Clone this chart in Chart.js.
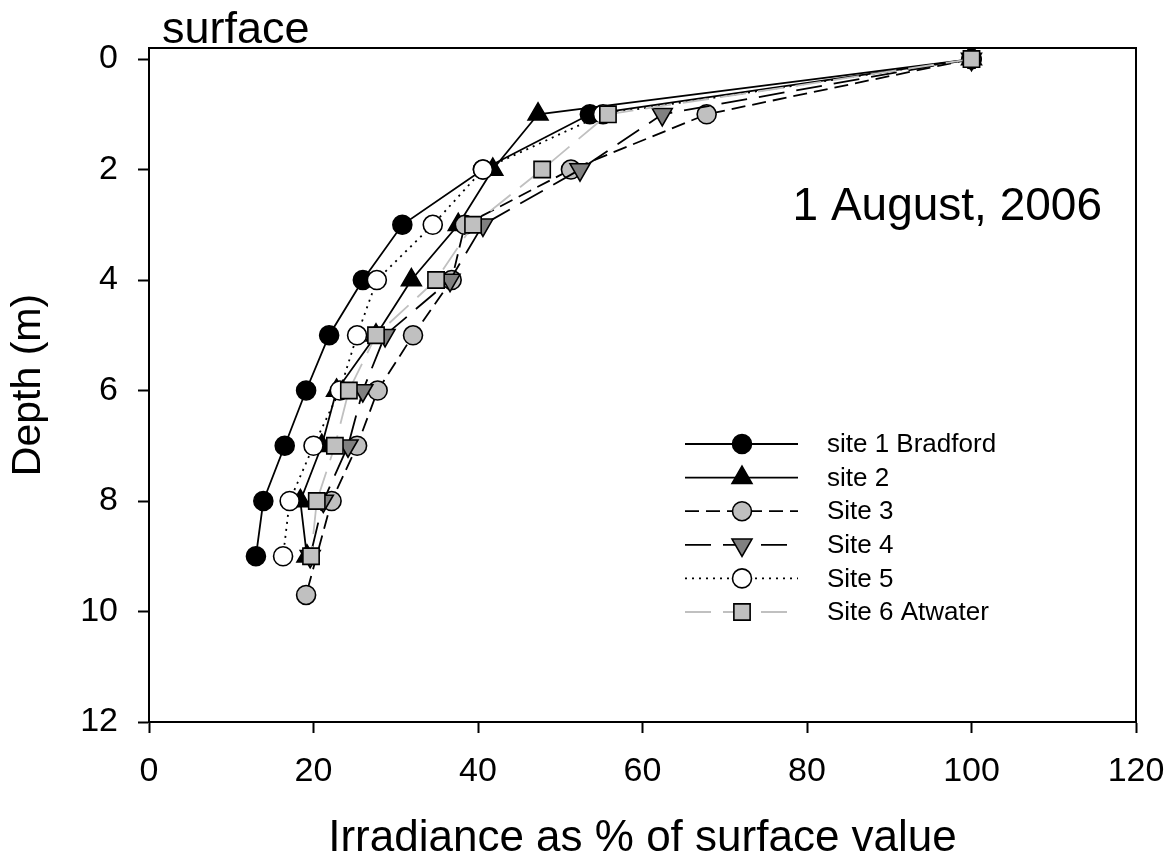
<!DOCTYPE html>
<html>
<head>
<meta charset="utf-8">
<script src="https://cdn.jsdelivr.net/npm/chart.js@4/dist/chart.umd.min.js"></script>
<style>
html,body{margin:0;padding:0;background:#fff;}
canvas{display:block;}
</style>
</head>
<body>
<canvas id="c" width="1175" height="859"></canvas>
<script>
// ---- data ----
const depths = [0, 1, 2, 3, 4, 5, 6, 7, 8, 9];
const site3Depths = [0, 1, 2, 3, 4, 5, 6, 7, 8, 9.7];
const site1 = [100, 53.6, 40.6, 30.8, 26.0, 21.9, 19.1, 16.5, 13.9, 13.0];
const site2 = [100, 47.3, 41.8, 37.6, 31.9, 27.6, 22.8, 21.0, 18.4, 19.2];
const site3 = [100, 67.8, 51.3, 38.4, 36.8, 32.1, 27.8, 25.3, 22.2, 19.1];
const site4 = [100, 62.4, 52.4, 40.6, 36.6, 28.7, 26.0, 24.2, 21.2, 19.6];
const site5 = [100, 55.2, 40.6, 34.5, 27.7, 25.3, 23.2, 20.0, 17.1, 16.3];
const site6 = [100, 55.8, 47.8, 39.4, 34.9, 27.6, 24.3, 22.6, 20.4, 19.7];
const seriesNames = ['site 1 Bradford', 'site 2', 'Site 3', 'Site 4', 'Site 5', 'Site 6 Atwater'];
const xTicks = [0, 20, 40, 60, 80, 100, 120];
const yTicks = [0, 2, 4, 6, 8, 10, 12];
const xTitle = 'Irradiance as % of surface value';
const yTitle = 'Depth (m)';
const dateLabel = '1 August, 2006';
const surfaceLabel = 'surface';

const FONT = "'Liberation Sans', Arial, Helvetica, sans-serif";

function pts(xs, ys) { return xs.map((v, i) => ({ x: v, y: ys[i] })); }

const styles = [
  { borderColor: '#000', borderDash: [], pointStyle: 'circle', pointRadius: 9.5, bg: '#000', rot: 0 },
  { borderColor: '#000', borderDash: [], pointStyle: 'triangle', pointRadius: 11.5, bg: '#000', rot: 0 },
  { borderColor: '#000', borderDash: [14, 7], pointStyle: 'circle', pointRadius: 9.5, bg: '#c0c0c0', rot: 0 },
  { borderColor: '#000', borderDash: [26, 12], pointStyle: 'triangle', pointRadius: 11.5, bg: '#808080', rot: 180 },
  { borderColor: '#000', borderDash: [2, 5], pointStyle: 'circle', pointRadius: 9.5, bg: '#fff', rot: 0 },
  { borderColor: '#c0c0c0', borderDash: [26, 12], pointStyle: 'rect', pointRadius: 11.5, bg: '#c0c0c0', rot: 0 }
];
const seriesData = [pts(site1, depths), pts(site2, depths), pts(site3, site3Depths), pts(site4, depths), pts(site5, depths), pts(site6, depths)];

const datasets = seriesData.map((d, i) => ({
  label: seriesNames[i],
  data: d,
  showLine: true,
  borderColor: styles[i].borderColor,
  borderWidth: 1.8,
  borderDash: styles[i].borderDash,
  pointStyle: styles[i].pointStyle,
  pointRadius: styles[i].pointRadius,
  pointRotation: styles[i].rot,
  pointBackgroundColor: styles[i].bg,
  pointBorderColor: '#000',
  pointBorderWidth: 1.6,
  order: 6 - i
}));

function drawMarker(ctx, style, r, rot, x, y, fill) {
  ctx.save();
  ctx.setLineDash([]);
  ctx.beginPath();
  if (style === 'circle') {
    ctx.arc(x, y, r, 0, Math.PI * 2);
  } else if (style === 'triangle') {
    let rad = rot * Math.PI / 180;
    for (let k = 0; k < 3; k++) {
      const px = x + Math.sin(rad) * r, py = y - Math.cos(rad) * r;
      if (k === 0) ctx.moveTo(px, py); else ctx.lineTo(px, py);
      rad += 2 * Math.PI / 3;
    }
    ctx.closePath();
  } else {
    const s = Math.SQRT1_2 * r;
    ctx.rect(x - s, y - s, 2 * s, 2 * s);
  }
  ctx.fillStyle = fill;
  ctx.fill();
  ctx.lineWidth = 1.6;
  ctx.strokeStyle = '#000';
  ctx.stroke();
  ctx.restore();
}

const decor = {
  id: 'decor',
  afterDraw(chart) {
    const ctx = chart.ctx;
    const a = chart.chartArea;
    ctx.save();
    // frame
    ctx.strokeStyle = '#000';
    ctx.lineWidth = 2;
    ctx.strokeRect(a.left, a.top, a.right - a.left, a.bottom - a.top);
    ctx.fillStyle = '#000';
    ctx.textBaseline = 'alphabetic';
    // surface label
    ctx.font = '45px ' + FONT;
    ctx.textAlign = 'left';
    ctx.fillText(surfaceLabel, a.left + 13, a.top - 5);
    // date label
    ctx.font = '46px ' + FONT;
    ctx.textAlign = 'right';
    ctx.fillText(dateLabel, a.right - 34, a.top + 172);
    // legend
    const lx0 = 685, lx1 = 798, mx = 742, tx = 827, y0 = 444, dy = 33.6;
    chart.data.datasets.forEach((ds, i) => {
      const y = y0 + i * dy;
      ctx.beginPath();
      ctx.setLineDash(ds.borderDash);
      ctx.strokeStyle = ds.borderColor;
      ctx.lineWidth = 1.8;
      ctx.moveTo(lx0, y);
      ctx.lineTo(lx1, y);
      ctx.stroke();
      ctx.setLineDash([]);
      drawMarker(ctx, ds.pointStyle, ds.pointRadius, ds.pointRotation, mx, y, ds.pointBackgroundColor);
      ctx.fillStyle = '#000';
      ctx.font = '26px ' + FONT;
      ctx.textAlign = 'left';
      ctx.textBaseline = 'middle';
      ctx.fillText(ds.label, tx, y + 1);
    });
    ctx.restore();
  }
};

new Chart(document.getElementById('c'), {
  type: 'scatter',
  data: { datasets },
  options: {
    responsive: false,
    animation: false,
    devicePixelRatio: 1,
    layout: { padding: { top: 48, right: 39, left: 0, bottom: 0 } },
    plugins: { legend: { display: false }, tooltip: { enabled: false } },
    scales: {
      x: {
        type: 'linear', position: 'bottom', min: 0, max: 120,
        afterBuildTicks: s => { s.ticks = xTicks.map(v => ({ value: v })); },
        afterFit: s => { s.height = 137; s.paddingRight = 0; s.paddingLeft = 0; },
        ticks: { color: '#000', font: { family: FONT, size: 34 }, padding: 18 },
        grid: { drawOnChartArea: false, drawTicks: true, tickLength: 11, tickColor: '#000', tickWidth: 2 },
        border: { display: true, color: '#000', width: 2 },
        title: { display: true, text: xTitle, color: '#000', font: { family: FONT, size: 44, lineHeight: 1 }, padding: { top: 0, bottom: -2 } }
      },
      y: {
        type: 'linear', position: 'left', reverse: true, min: -0.2, max: 12,
        afterBuildTicks: s => { s.ticks = yTicks.map(v => ({ value: v })); },
        afterFit: s => { s.width = 149; s.paddingTop = 0; s.paddingBottom = 0; },
        ticks: { color: '#000', font: { family: FONT, size: 34 }, padding: 20 },
        grid: { drawOnChartArea: false, drawTicks: true, tickLength: 11, tickColor: '#000', tickWidth: 2 },
        border: { display: true, color: '#000', width: 2 },
        title: { display: true, text: yTitle, color: '#000', font: { family: FONT, size: 41, lineHeight: 1 }, padding: { top: 8, bottom: 0 } }
      }
    }
  },
  plugins: [decor]
});
</script>
</body>
</html>
